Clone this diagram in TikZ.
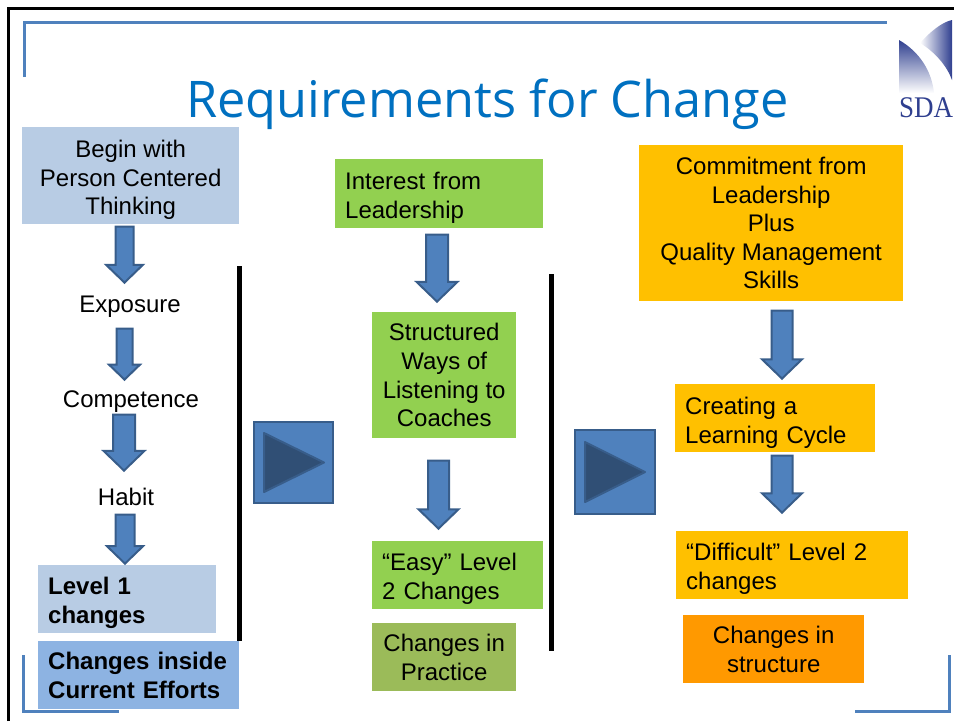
\documentclass[tikz,border=0pt]{standalone}
\usepackage{fontspec}
\setmainfont{Liberation Sans}
\newfontfamily\titlefont{Open Sans}
\newfontfamily\logofont{Liberation Serif}
\usetikzlibrary{shapes.arrows}

\definecolor{slideblue}{HTML}{4F81BD}
\definecolor{arrowedge}{HTML}{385D8A}
\definecolor{paleblue}{HTML}{B8CCE4}
\definecolor{midblue}{HTML}{8DB3E2}
\definecolor{boxgreen}{HTML}{92D050}
\definecolor{boxolive}{HTML}{9BBB59}
\definecolor{boxamber}{HTML}{FFC000}
\definecolor{boxorange}{HTML}{FF9900}
\definecolor{titleblue}{HTML}{0070C0}
\definecolor{logoblue}{HTML}{2F3F8F}

\newcommand{\nudge}[1]{\\[\dimexpr#1pt-8.6pt\relax]}

\tikzset{
	lbl/.style={inner sep=0pt, align=center, font=\fontsize{24}{28.6}\selectfont},
	box/.style={lbl, anchor=north west, minimum height=68pt},
	leftbox/.style={box, align=left, inner xsep=10pt},
	downarrow/.style={single arrow, single arrow tip angle=92, shape border rotate=270, anchor=tip,
		fill=slideblue, draw=arrowedge, line width=2pt},
	playbtn/.style={anchor=north west, inner sep=0pt, outer sep=0pt, fill=slideblue, draw=arrowedge, line width=2pt},
	playtri/.style={fill=arrowedge!85!black, draw=arrowedge, line width=2pt, line join=round},
	corner/.style={draw=slideblue, line width=3pt},
	divider/.style={draw=black, line width=5pt}
}

\begin{document}
\begin{tikzpicture}[x=1pt,y=-1pt]
	\useasboundingbox (0,0) rectangle (954,721);
	\draw[line width=3pt] (8.5,721) -- (8.5,8.5) -- (954,8.5);
	\draw[corner] (24.5,77) -- (24.5,22.5) -- (887,22.5);
	\draw[corner] (23.5,655) -- (23.5,711.5) -- (119,711.5);
	\draw[corner] (949.5,655) -- (949.5,711.5) -- (855,711.5);

	\shade[top color=logoblue, bottom color=white] (899,40) .. controls (920,52) and (932,72) .. (934,93) -- (899,93) -- cycle;
	\shade[left color=white, right color=logoblue] (952,20) .. controls (942,22) and (930,32) .. (920,43) .. controls (935,52) and (947,66) .. (952,80) -- cycle;
	\node[inner sep=0pt, text=logoblue, font=\logofont\fontsize{30}{30}\selectfont] (logo) at (926,108) {\scalebox{0.9}[1]{SDA}};

	\node[text=titleblue, inner sep=0pt, font=\titlefont\fontsize{50.5}{50.5}\selectfont] (title) at (487.5,104) {Requirements for Change};

	\draw[divider] (239.5,266) -- (239.5,641);
	\draw[divider] (551.5,274) -- (551.5,651);

	\node[box, fill=paleblue, minimum width=217pt, minimum height=97pt] (begin) at (22,127) {\nudge{6}Begin with\\Person Centered\\Thinking};
	\node[lbl] (exposure) at (130,307) {Exposure};
	\node[lbl] (competence) at (131,402) {Competence};
	\node[lbl] (habit) at (126,497) {Habit};
	\node[leftbox, fill=paleblue, text width=158pt, font=\fontsize{24}{28.6}\selectfont\bfseries] (levelone) at (38,565) {\nudge{5}Level 1\\changes};
	\node[leftbox, fill=midblue, text width=181pt, font=\fontsize{24}{28.6}\selectfont\bfseries] (inside) at (38,641) {Changes inside\\Current Efforts};

	\node[leftbox, fill=boxgreen, text width=188pt, minimum height=69pt] (interest) at (335,159) {\nudge{6}Interest from\\Leadership};
	\node[box, fill=boxgreen, minimum width=144pt, minimum height=126pt] (listening) at (372,312) {Structured\\Ways of\\Listening to\\Coaches};
	\node[leftbox, fill=boxgreen, text width=151pt] (easy) at (372,541) {\nudge{5}“Easy” Level\\2 Changes};
	\node[box, fill=boxolive, minimum width=144pt] (practice) at (372,623) {Changes in\\Practice};

	\node[box, fill=boxamber, minimum width=264pt, minimum height=156pt] (commit) at (639,145) {Commitment from\\Leadership\\Plus\\Quality Management\\Skills};
	\node[leftbox, fill=boxamber, text width=180pt] (cycle) at (675,384) {\nudge{6}Creating a\\Learning Cycle};
	\node[leftbox, fill=boxamber, text width=212pt] (difficult) at (676,531) {\nudge{5}“Difficult” Level 2\\changes};
	\node[box, fill=boxorange, minimum width=181pt] (structure) at (683,615) {Changes in\\structure};

	\foreach \nm/\cx/\tip/\len/\wid/\ext/\half in {
		arrowa/124.5/284/56/35/9.5/8, arrowb/124.5/381/51/29/7.5/7, arrowc/124/472/56/40/9.5/10, arrowd/125/565/49/35/8.5/8.5,
		arrowe/437/303/67/40/9.5/10, arrowf/438.5/530/68/39/9.5/9.5, arrowg/782/380/68/38/9.5/9.5, arrowh/782/514/57/38/9.5/9.5}{
		\node[downarrow, minimum height=\len pt, minimum width=\wid pt, inner sep=\half pt, single arrow head extend=\ext pt] (\nm) at (\cx,\tip) {};
	}

	\node[playbtn, minimum width=79pt, minimum height=81pt] (playa) at (254,422) {};
	\draw[playtri] (264,433) -- (324,462.5) -- (264,492) -- cycle;
	\node[playbtn, minimum width=80pt, minimum height=84pt] (playb) at (575,430) {};
	\draw[playtri] (585,442) -- (645,472) -- (585,502) -- cycle;
\end{tikzpicture}
\end{document}
